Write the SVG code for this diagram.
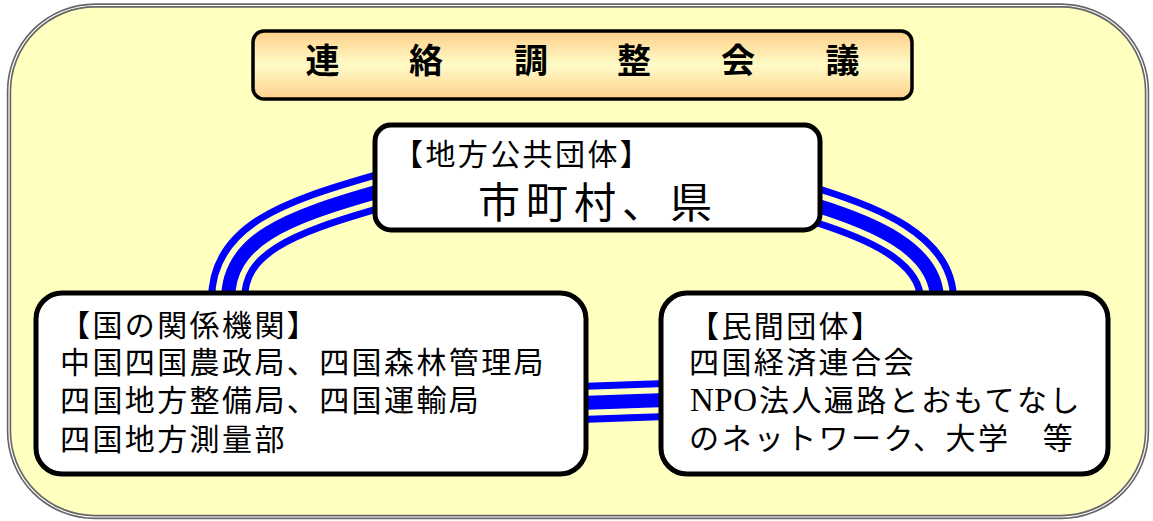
<svg xmlns="http://www.w3.org/2000/svg" width="1153" height="521" viewBox="0 0 1153 521">
<defs>
<linearGradient id="titleGrad" x1="0" y1="0" x2="0" y2="1">
<stop offset="0" stop-color="#FFCF88"/>
<stop offset="0.5" stop-color="#FFFBC8"/>
<stop offset="1" stop-color="#FFD08C"/>
</linearGradient>
<style>
.jp{font-family:"Noto Sans CJK JP","Noto Sans CJK SC",sans-serif;fill:#000;}
.node{fill:#fff;stroke:#000;stroke-width:5;}
.c1{fill:none;stroke:#0000FF;stroke-width:40;}
.c2{fill:none;stroke:#FFFFC0;stroke-width:26;}
.c3{fill:none;stroke:#0000FF;stroke-width:14;}
.body{font-size:30px;letter-spacing:2.4px;}
</style>
</defs>
<rect x="0" y="0" width="1153" height="521" fill="#fff"/>
<g id="frame">
<rect x="9" y="5.5" width="1138" height="511.5" rx="86" ry="86" fill="#FFFFC0" stroke="#666" stroke-width="4.5"/>
<rect x="9" y="5.5" width="1138" height="511.5" rx="86" ry="86" fill="none" stroke="#fff" stroke-width="1.2"/>
</g>
<g id="connectors">
<path class="c1" d="M228,300 C228,240 285,218 380,191"/>
<path class="c2" d="M228,300 C228,240 285,218 380,191"/>
<path class="c3" d="M228,300 C228,240 285,218 380,191"/>
<path class="c1" d="M815,205 C870,222 937,248 937,300"/>
<path class="c2" d="M815,205 C870,222 937,248 937,300"/>
<path class="c3" d="M815,205 C870,222 937,248 937,300"/>
<path class="c1" d="M580,403 Q620,401.5 666,400"/>
<path class="c2" d="M580,403 Q620,401.5 666,400"/>
<path class="c3" d="M580,403 Q620,401.5 666,400"/>
</g>
<g id="title">
<rect x="253" y="31" width="659" height="68" rx="11" ry="11" fill="url(#titleGrad)" stroke="#000" stroke-width="3.5"/>
<text class="jp" font-size="34" font-weight="bold" y="73" text-anchor="middle"><tspan x="322.5">連</tspan><tspan x="426">絡</tspan><tspan x="531">調</tspan><tspan x="634">整</tspan><tspan x="738">会</tspan><tspan x="842.5">議</tspan></text>
</g>
<g id="node-local">
<rect class="node" x="375" y="125" width="445" height="105" rx="16" ry="16"/>
<text class="jp body" x="393" y="165">【地方公共団体】</text>
<text class="jp" x="478" y="218" font-size="42" letter-spacing="6">市町村、県</text>
</g>
<g id="node-national">
<rect class="node" x="36" y="293" width="550" height="181" rx="26" ry="26"/>
<text class="jp body" x="60" y="336">【国の関係機関】</text>
<text class="jp body" x="60" y="373">中国四国農政局、四国森林管理局</text>
<text class="jp body" x="60" y="411">四国地方整備局、四国運輸局</text>
<text class="jp body" x="60" y="450">四国地方測量部</text>
</g>
<g id="node-private">
<rect class="node" x="661" y="293" width="447" height="181" rx="26" ry="26"/>
<text class="jp body" x="689" y="337">【民間団体】</text>
<text class="jp body" x="689" y="373">四国経済連合会</text>
<text class="jp body" y="411"><tspan x="690" font-family="'Liberation Serif',serif" font-size="33" letter-spacing="0.5">NPO</tspan><tspan x="759">法人遍路とおもてなし</tspan></text>
<text class="jp body" x="689" y="449">のネットワーク、大学　等</text>
</g>
</svg>
